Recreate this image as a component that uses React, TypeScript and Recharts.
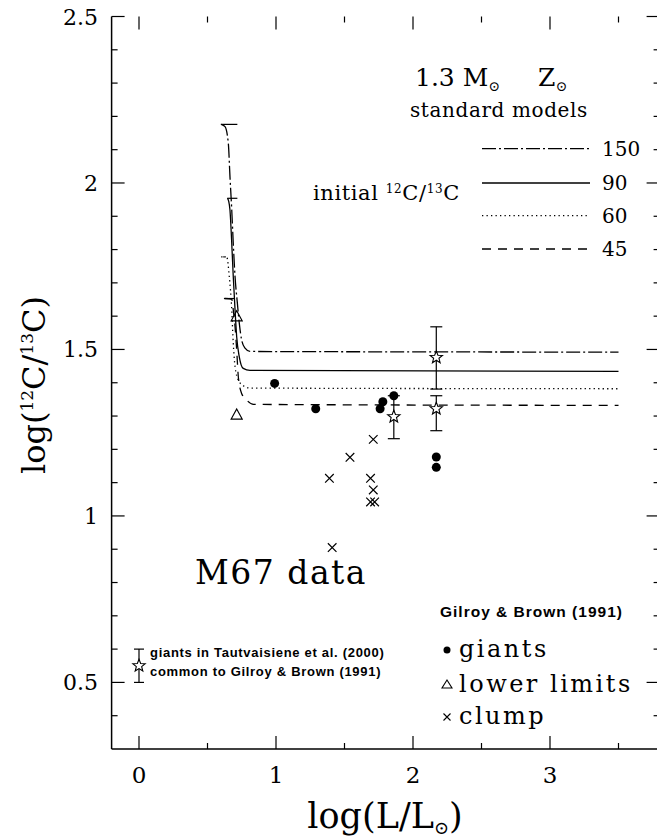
import React from "react";
import {
  ComposedChart,
  Line,
  Scatter,
  XAxis,
  YAxis,
  ErrorBar,
  ReferenceLine,
} from "recharts";

// standard models, 1.3 Msun, Z sun  (x = log L/Lsun, y = log 12C/13C)
const m150L = [0.6, 0.628, 0.652, 0.664, 0.677, 0.688, 0.701, 0.718, 0.732, 0.749, 0.774, 0.81, 3.5];
const m150R = [2.176, 2.169, 2.119, 2.019, 1.919, 1.819, 1.719, 1.639, 1.579, 1.529, 1.504, 1.494, 1.492];
const m90L = [0.645, 0.655, 0.664, 0.677, 0.688, 0.701, 0.713, 0.732, 0.761, 0.81, 3.5];
const m90R = [1.954, 1.945, 1.919, 1.819, 1.719, 1.619, 1.538, 1.478, 1.443, 1.437, 1.434];
const m60L = [0.615, 0.64, 0.659, 0.677, 0.688, 0.701, 0.725, 0.761, 0.81, 3.5];
const m60R = [1.778, 1.778, 1.719, 1.619, 1.519, 1.449, 1.408, 1.391, 1.384, 1.382];
const m45L = [0.625, 0.677, 0.688, 0.701, 0.713, 0.725, 0.749, 0.786, 0.835, 3.5];
const m45R = [1.653, 1.651, 1.619, 1.569, 1.499, 1.418, 1.368, 1.348, 1.335, 1.332];

// little caps at the start of each model
const capStart = [0.597, 0.645, 0.6, 0.62];
const capEnd = [0.718, 0.718, 0.645, 0.7];
const capValue = [2.176, 1.954, 1.778, 1.653];

// Gilroy & Brown (1991)
const giantsL = [0.99, 1.29, 1.76, 1.78, 1.86, 2.17, 2.17];
const giantsR = [1.398, 1.322, 1.322, 1.343, 1.361, 1.177, 1.146];
const limitsL = [0.713, 0.713];
const limitsR = [1.598, 1.303];
const clumpL = [1.39, 1.54, 1.69, 1.71, 1.71, 1.69, 1.72, 1.41];
const clumpR = [1.113, 1.176, 1.113, 1.23, 1.078, 1.042, 1.042, 0.905];

// Tautvaisiene et al. (2000) stars in common
const tautL = [1.86, 2.17, 2.17];
const tautR = [1.298, 1.476, 1.322];
const tautLo = [0.066, 0.095, 0.066];
const tautHi = [0.063, 0.092, 0.039];

// key symbol
const keyL = [0];
const keyR = [0.55];
const keyErr = [0.05];

const xMajor = [0, 1, 2, 3];
const xMinor = [0.5, 1.5, 2.5, 3.5];
const yMajor = [0.5, 1, 1.5, 2, 2.5];
const yMinor = [0.4, 0.6, 0.7, 0.8, 0.9, 1.1, 1.2, 1.3, 1.4, 1.6, 1.7, 1.8, 1.9, 2.1, 2.2, 2.3, 2.4];

const modelLabels = ["150", "90", "60", "45"];
const modelDash = ["14 3 2 3", "", "1.3 3.2", "9 7"];

const pts = (xs: number[], ys: number[]) => xs.map((x, i) => ({ x, y: ys[i] }));

const SERIF = "'DejaVu Serif', serif";
const SANS = "'Liberation Sans', Arial, sans-serif";
const XDOM: [number, number] = [-0.2, 3.8];
const YDOM: [number, number] = [0.3, 2.5];
// one screen pixel in data units (plot box is 548 x 732.5 px)
const PX_X = (XDOM[1] - XDOM[0]) / 548;
const PX_Y = (YDOM[1] - YDOM[0]) / 732.5;
const BIG = 13;
const SMALL = 6;
const frame = { stroke: "#000", strokeWidth: 1.5 };

const BottomLabel = (p: any) => (
  <text x={Number(p.x)} y={Number(p.y) + 34} textAnchor="middle" fontSize={23} fontFamily={SERIF} fill="#000">
    {p.payload.value}
  </text>
);

const LeftLabel = (p: any) => (
  <text x={Number(p.x) - 13.6} y={Number(p.y) + 8} textAnchor="end" fontSize={22} fontFamily={SERIF} fill="#000">
    {String(p.payload.value)}
  </text>
);

const DotShape = (p: any) => <circle cx={p.cx} cy={p.cy} r={4.5} fill="#000" />;

const TriShape = (p: any) => (
  <path
    d={`M${p.cx},${p.cy - 6}L${p.cx + 5.5},${p.cy + 4}L${p.cx - 5.5},${p.cy + 4}Z`}
    fill="none"
    stroke="#000"
    strokeWidth={1.2}
  />
);

const CrossShape = (p: any) => {
  const s = 4.3;
  return (
    <path
      d={`M${p.cx - s},${p.cy - s}L${p.cx + s},${p.cy + s}M${p.cx - s},${p.cy + s}L${p.cx + s},${p.cy - s}`}
      stroke="#000"
      strokeWidth={1.2}
    />
  );
};

const starPath = (cx: number, cy: number, ro: number, ri: number) => {
  let d = "";
  for (let i = 0; i < 10; i++) {
    const r = i % 2 === 0 ? ro : ri;
    const a = -Math.PI / 2 + (i * Math.PI) / 5;
    d += `${i === 0 ? "M" : "L"}${cx + r * Math.cos(a)},${cy + r * Math.sin(a)}`;
  }
  return d + "Z";
};

const StarShape = (p: any) => (
  <path d={starPath(p.cx, p.cy, 6.5, 2.8)} fill="#fff" stroke="#000" strokeWidth={1.1} />
);

const models = [
  { key: "150", data: pts(m150L, m150R) },
  { key: "90", data: pts(m90L, m90R) },
  { key: "60", data: pts(m60L, m60R) },
  { key: "45", data: pts(m45L, m45R) },
];

const tautData = tautL.map((x, i) => ({ x, y: tautR[i], err: [tautLo[i], tautHi[i]] }));
const keyData = keyL.map((x, i) => ({ x, y: keyR[i], err: keyErr[i] }));

// inward tick marks on all four sides, as short segments on the chart scales
const tickSegs: { a: { x: number; y: number }; b: { x: number; y: number } }[] = [];
[...xMajor.map((v) => [v, BIG]), ...xMinor.map((v) => [v, SMALL])].forEach(([v, len]) => {
  tickSegs.push({ a: { x: v, y: YDOM[0] }, b: { x: v, y: YDOM[0] + len * PX_Y } });
  tickSegs.push({ a: { x: v, y: YDOM[1] }, b: { x: v, y: YDOM[1] - len * PX_Y } });
});
[...yMajor.map((v) => [v, BIG]), ...yMinor.map((v) => [v, SMALL])].forEach(([v, len]) => {
  tickSegs.push({ a: { x: XDOM[0], y: v }, b: { x: XDOM[0] + len * PX_X, y: v } });
  tickSegs.push({ a: { x: XDOM[1], y: v }, b: { x: XDOM[1] - len * PX_X, y: v } });
});

const Overlay = () => {
  const legendY = [148.7, 183, 215.7, 249];
  return (
    <svg width={657} height={840} style={{ position: "absolute", left: 0, top: 0, pointerEvents: "none" }}>
      <g fontFamily={SERIF} fill="#000">
        <text x={415} y={86} fontSize={25}>
          1.3 M
          <tspan fontSize={14} dy={5}>⊙</tspan>
        </text>
        <text x={538} y={86} fontSize={25}>
          Z<tspan fontSize={14} dy={5}>⊙</tspan>
        </text>
        <text x={410} y={117} fontSize={20} letterSpacing={0.6}>standard models</text>
        <text x={313} y={200} fontSize={21} letterSpacing={0.6}>
          initial <tspan fontSize={12} dy={-7}>12</tspan>
          <tspan dy={7}>C/</tspan>
          <tspan fontSize={12} dy={-7}>13</tspan>
          <tspan dy={7}>C</tspan>
        </text>
        {legendY.map((y, i) => (
          <g key={modelLabels[i]}>
            <line x1={482} x2={590} y1={y} y2={y} stroke="#000" strokeWidth={1.3} strokeDasharray={modelDash[i] || undefined} />
            <text x={602} y={y + 7} fontSize={20}>{modelLabels[i]}</text>
          </g>
        ))}
        <text x={195} y={584} fontSize={33} letterSpacing={1.5}>M67 data</text>
        <text x={459} y={657} fontSize={24} letterSpacing={2.5}>giants</text>
        <text x={459} y={692} fontSize={24} letterSpacing={2.5}>lower limits</text>
        <text x={459} y={724} fontSize={24} letterSpacing={2.5}>clump</text>
        <text x={35} y={385} fontSize={32} textAnchor="middle" transform="rotate(-90 35 385)" dy={10}>
          log(<tspan fontSize={17} dy={-12}>12</tspan>
          <tspan dy={12}>C/</tspan>
          <tspan fontSize={17} dy={-12}>13</tspan>
          <tspan dy={12}>C)</tspan>
        </text>
        <text x={385} y={828} fontSize={35} textAnchor="middle">
          log(L/L<tspan fontSize={18} dy={6}>⊙</tspan>
          <tspan dy={-6}>)</tspan>
        </text>
      </g>
      <g fontFamily={SANS} fontWeight="bold" fill="#000">
        <text x={440} y={617} fontSize={15.5} letterSpacing={1}>Gilroy &amp; Brown (1991)</text>
        <text x={150} y={657} fontSize={13} letterSpacing={0.7}>giants in Tautvaisiene et al. (2000)</text>
        <text x={150} y={676} fontSize={13} letterSpacing={0.7}>common to Gilroy &amp; Brown (1991)</text>
      </g>
      <circle cx={447} cy={650} r={3.5} fill="#000" />
      <path d="M447,680L452,688L442,688Z" fill="none" stroke="#000" strokeWidth={1.1} />
      <path d="M443.5,713.5L450.5,720.5M443.5,720.5L450.5,713.5" stroke="#000" strokeWidth={1.1} />
    </svg>
  );
};

export default function App() {
  return (
    <div style={{ position: "absolute", left: 0, top: 0, width: 657, height: 840, overflow: "hidden", background: "#fff" }}>
      <ComposedChart width={662} height={840} margin={{ top: 16.5, right: 2.4, bottom: 0, left: 0 }}>
        <XAxis
          dataKey="x"
          type="number"
          domain={XDOM}
          allowDataOverflow
          ticks={xMajor}
          interval={0}
          height={91}
          tickSize={0}
          tickMargin={0}
          tickLine={false}
          tick={BottomLabel}
          axisLine={frame}
        />
        <XAxis
          xAxisId="top"
          orientation="top"
          dataKey="x"
          type="number"
          domain={XDOM}
          allowDataOverflow
          height={0}
          tickLine={false}
          tick={false}
          axisLine={frame}
        />
        <YAxis
          type="number"
          domain={YDOM}
          allowDataOverflow
          ticks={yMajor}
          interval={0}
          width={111.6}
          tickSize={0}
          tickMargin={0}
          tickLine={false}
          tick={LeftLabel}
          axisLine={frame}
        />
        <YAxis
          yAxisId="right"
          orientation="right"
          type="number"
          domain={YDOM}
          allowDataOverflow
          width={0}
          tickLine={false}
          tick={false}
          axisLine={frame}
        />
        {tickSegs.map((s, i) => (
          <ReferenceLine key={"t" + i} segment={[s.a, s.b]} stroke="#000" strokeWidth={1.2} />
        ))}
        {models.map((m, i) => (
          <Line
            key={m.key}
            data={m.data}
            dataKey="y"
            type="monotone"
            stroke="#000"
            strokeWidth={1.3}
            strokeDasharray={modelDash[i] || undefined}
            dot={false}
            activeDot={false}
            isAnimationActive={false}
          />
        ))}
        {capValue.map((v, i) => (
          <ReferenceLine
            key={"cap" + i}
            segment={[{ x: capStart[i], y: v }, { x: capEnd[i], y: v }]}
            stroke="#000"
            strokeWidth={1.2}
            strokeDasharray={i === 2 ? "1.3 2" : undefined}
          />
        ))}
        <Scatter data={pts(giantsL, giantsR)} dataKey="y" shape={DotShape} isAnimationActive={false} />
        <Scatter data={pts(limitsL, limitsR)} dataKey="y" shape={TriShape} isAnimationActive={false} />
        <Scatter data={pts(clumpL, clumpR)} dataKey="y" shape={CrossShape} isAnimationActive={false} />
        <Scatter data={tautData} dataKey="y" shape={StarShape} isAnimationActive={false}>
          <ErrorBar dataKey="err" direction="y" width={6} stroke="#000" strokeWidth={1.2} />
        </Scatter>
        <Scatter data={keyData} dataKey="y" shape={StarShape} isAnimationActive={false}>
          <ErrorBar dataKey="err" direction="y" width={5} stroke="#000" strokeWidth={1.2} />
        </Scatter>
      </ComposedChart>
      <Overlay />
    </div>
  );
}
